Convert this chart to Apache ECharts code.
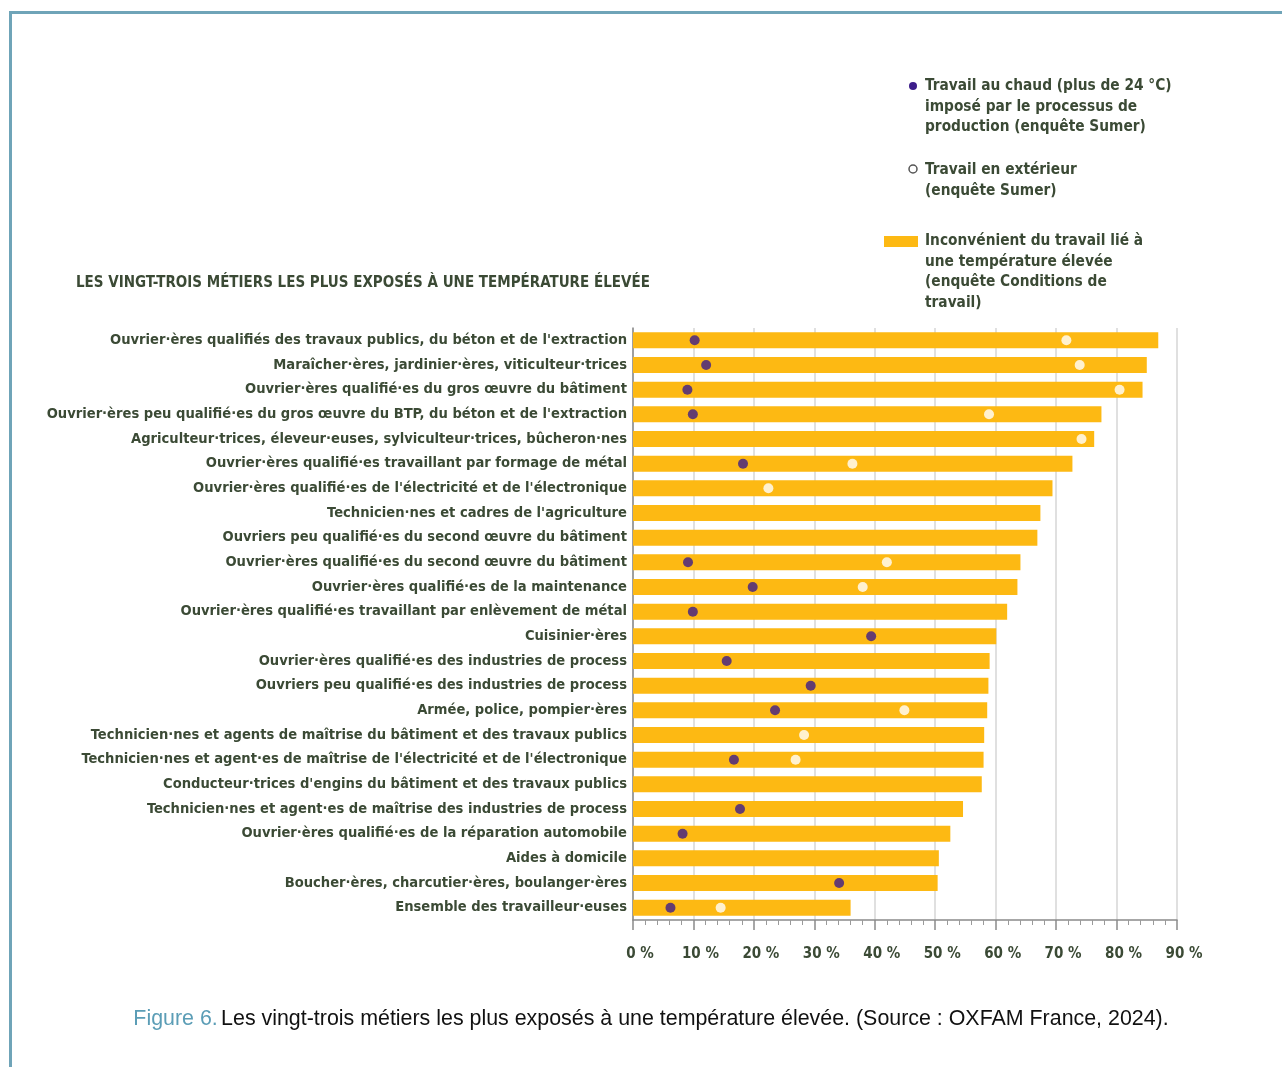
<!DOCTYPE html>
<html><head><meta charset="utf-8">
<script src="https://cdn.jsdelivr.net/npm/echarts@6/dist/echarts.min.js"></script>
<style>
html,body{margin:0;padding:0;background:#fff;}
#frame{position:absolute;left:9px;top:11px;width:1273px;height:1056px;border-top:3px solid #6fa4b8;border-left:3px solid #6fa4b8;box-sizing:border-box;}
#chart{position:absolute;left:0;top:0;width:1282px;height:1067px;}
</style></head>
<body>
<div id="frame"></div>
<div id="chart"></div>
<script>
const categories = [
  "Ouvrier·ères qualifiés des travaux publics, du béton et de l'extraction",
  "Maraîcher·ères, jardinier·ères, viticulteur·trices",
  "Ouvrier·ères qualifié·es du gros œuvre du bâtiment",
  "Ouvrier·ères peu qualifié·es du gros œuvre du BTP, du béton et de l'extraction",
  "Agriculteur·trices, éleveur·euses, sylviculteur·trices, bûcheron·nes",
  "Ouvrier·ères qualifié·es travaillant par formage de métal",
  "Ouvrier·ères qualifié·es de l'électricité et de l'électronique",
  "Technicien·nes et cadres de l'agriculture",
  "Ouvriers peu qualifié·es du second œuvre du bâtiment",
  "Ouvrier·ères qualifié·es du second œuvre du bâtiment",
  "Ouvrier·ères qualifié·es de la maintenance",
  "Ouvrier·ères qualifié·es travaillant par enlèvement de métal",
  "Cuisinier·ères",
  "Ouvrier·ères qualifié·es des industries de process",
  "Ouvriers peu qualifié·es des industries de process",
  "Armée, police, pompier·ères",
  "Technicien·nes et agents de maîtrise du bâtiment et des travaux publics",
  "Technicien·nes et agent·es de maîtrise de l'électricité et de l'électronique",
  "Conducteur·trices d'engins du bâtiment et des travaux publics",
  "Technicien·nes et agent·es de maîtrise des industries de process",
  "Ouvrier·ères qualifié·es de la réparation automobile",
  "Aides à domicile",
  "Boucher·ères, charcutier·ères, boulanger·ères",
  "Ensemble des travailleur·euses"
];
const inconvenient = [86.9, 85.0, 84.3, 77.5, 76.3, 72.7, 69.4, 67.4, 66.9, 64.1, 63.6, 61.9, 60.1, 59.0, 58.8, 58.6, 58.1, 58.0, 57.7, 54.6, 52.5, 50.6, 50.4, 36.0];
const travailChaud = [10.2, 12.1, 9.0, 9.9, null, 18.2, null, null, null, 9.1, 19.8, 9.9, 39.4, 15.5, 29.4, 23.5, null, 16.7, null, 17.7, 8.2, null, 34.1, 6.2];
const travailExterieur = [71.7, 73.9, 80.5, 58.9, 74.2, 36.3, 22.4, null, null, 42.0, 38.0, null, null, null, null, 44.9, 28.3, 26.9, null, null, null, null, null, 14.5];
const xTicks = [0, 10, 20, 30, 40, 50, 60, 70, 80, 90];

const TXT = '#3b4a35';
const FONT = '"DejaVu Sans Condensed", "Liberation Sans Narrow", sans-serif';

function pts(arr){ const out=[]; arr.forEach((v,i)=>{ if(v!==null) out.push([v, categories[i]]); }); return out; }

const chart = echarts.init(document.getElementById('chart'));
chart.setOption({
  animation:false,
  backgroundColor:'transparent',
  textStyle:{fontFamily:FONT},
  grid:{left:633, right:105, top:328, bottom:147, containLabel:false, outerBoundsMode:'none'},
  xAxis:{
    type:'value', min:xTicks[0], max:xTicks[xTicks.length-1], interval:10,
    axisLine:{show:true, lineStyle:{color:'#8a8a8a', width:1.5}},
    axisTick:{show:true, length:10, inside:false, lineStyle:{color:'#8a8a8a', width:1.5}},
    minorTick:{show:true, splitNumber:5, length:5, lineStyle:{color:'#9a9a9a'}},
    splitLine:{show:true, lineStyle:{color:'#d6d6d6', width:1.5}},
    axisLabel:{formatter:'{value} %', color:TXT, fontFamily:FONT, fontWeight:'bold', fontSize:15, margin:27, padding:[0,0,0,14]}
  },
  yAxis:{
    type:'category', data:categories, inverse:true,
    axisLine:{show:true, lineStyle:{color:'#8a8a8a', width:1.5}},
    axisTick:{show:false},
    axisLabel:{color:TXT, fontFamily:FONT, fontWeight:'bold', fontSize:14.6, margin:6, padding:[2,0,0,0]}
  },
  series:[
    {type:'bar', name:'Inconvénient', data:inconvenient, barWidth:16, itemStyle:{color:'#fdb913'}, z:2},
    {type:'scatter', name:'Chaud', data:pts(travailChaud), symbolSize:10, itemStyle:{color:'#3c1d8a'}, z:5},
    {type:'scatter', name:'Exterieur', data:pts(travailExterieur), symbolSize:10, itemStyle:{color:'#ffffff'}, z:5}
  ],
  graphic:[
    {type:'text', left:76, top:276, style:{text:'LES VINGT-TROIS MÉTIERS LES PLUS EXPOSÉS À UNE TEMPÉRATURE ÉLEVÉE', fill:TXT, font:'bold 15px '+FONT}},
    {type:'circle', shape:{cx:913, cy:86, r:4}, style:{fill:'#3c1d8a'}},
    {type:'text', left:925, top:76, style:{text:'Travail au chaud (plus de 24 °C)\nimposé par le processus de\nproduction (enquête Sumer)', fill:TXT, font:'bold 15.3px '+FONT, lineHeight:20.5}},
    {type:'circle', shape:{cx:913, cy:169, r:4}, style:{fill:'#ffffff', stroke:'#555', lineWidth:1.5}},
    {type:'text', left:925, top:160, style:{text:'Travail en extérieur\n(enquête Sumer)', fill:TXT, font:'bold 15.3px '+FONT, lineHeight:20.5}},
    {type:'rect', shape:{x:884, y:236, width:34, height:11}, style:{fill:'#fdb913'}},
    {type:'text', left:925, top:231, style:{text:'Inconvénient du travail lié à\nune température élevée\n(enquête Conditions de\ntravail)', fill:TXT, font:'bold 15.3px '+FONT, lineHeight:20.5}},
    {type:'text', x:651, y:1019, style:{rich:{a:{fill:'#5b9db6', font:'21.4px "Liberation Sans", Arial, sans-serif'}, b:{fill:'#111', font:'21.4px "Liberation Sans", Arial, sans-serif'}}, text:'{a|Figure 6.} {b|Les vingt-trois métiers les plus exposés à une température élevée. (Source : OXFAM France, 2024).}', align:'center', verticalAlign:'middle'}}
  ]
});
</script>
</body></html>
